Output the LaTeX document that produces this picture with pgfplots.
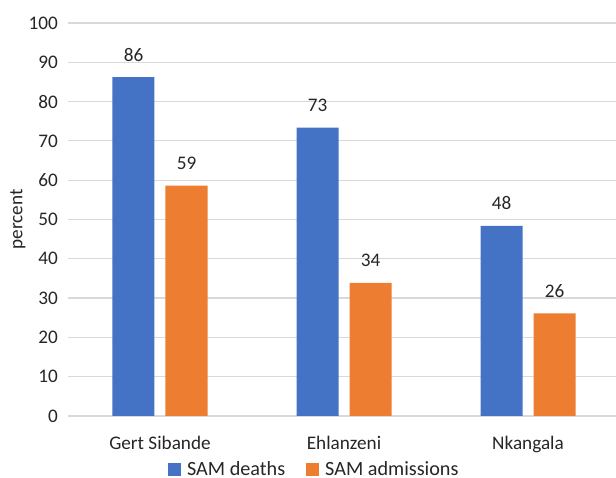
\documentclass[border=0pt]{standalone}
\usepackage{pgfplots}
\pgfplotsset{compat=1.18}
\usepackage{fontspec}
\setmainfont{Carlito}
\definecolor{cblue}{HTML}{4472C4}
\definecolor{corange}{HTML}{ED7D31}
\definecolor{cgrid}{HTML}{D9D9D9}
\definecolor{ctext}{HTML}{262626}
\newcommand\cf{\fontsize{19.2bp}{22bp}\selectfont}
\newcommand\lf{\fontsize{20.2bp}{23bp}\selectfont}
\begin{document}
\begin{tikzpicture}
\path[use as bounding box] (-68bp,-62bp) rectangle (548bp,416bp);
\begin{axis}[
  scale only axis,
  width=552bp, height=393bp,
  xmin=-0.5, xmax=2.5,
  ymin=0, ymax=100,
  ytick={0,10,...,100},
  xtick={0,1,2},
  xticklabels={Gert Sibande, Ehlanzeni, Nkangala},
  ymajorgrids,
  grid style={cgrid, line width=1.2bp},
  axis line style={draw=none},
  tick style={draw=none},
  /pgf/number format/assume math mode=true,
  ticklabel style={font=\cf, text=ctext},
  yticklabel style={anchor=east, inner sep=0pt, xshift=-10bp},
  xticklabel style={anchor=base, inner sep=0pt, yshift=-29bp},
  ylabel={percent},
  ylabel style={at={(axis description cs:-0.091,0.5)}, anchor=center, rotate=0, font=\cf, text=ctext},
  ybar, bar width=42bp,
  nodes near coords,
  nodes near coords style={font=\cf, text=ctext, anchor=base, inner sep=0pt, yshift=16bp, /pgf/number format/.cd, fixed, precision=0},
  legend style={draw=none, fill=none, inner sep=0pt, at={(axis description cs:0.181,-0.135)}, anchor=west, font=\lf, text=ctext, legend columns=2,
    nodes={inner sep=0pt},
    /tikz/every odd column/.append style={column sep=6bp},
    /tikz/every even column/.append style={column sep=21bp}},
  legend image code/.code={\fill[#1] (0bp,-6.5bp) rectangle (13bp,6.5bp);},
]
\addplot[fill=cblue, draw=none, bar shift=-26.5bp] coordinates {(0,86.2) (1,73.4) (2,48.4)};
\addplot[fill=corange, draw=none, bar shift=26.5bp] coordinates {(0,58.6) (1,33.9) (2,26.1)};
\legend{SAM deaths, SAM admissions}
\end{axis}
\end{tikzpicture}
\end{document}
